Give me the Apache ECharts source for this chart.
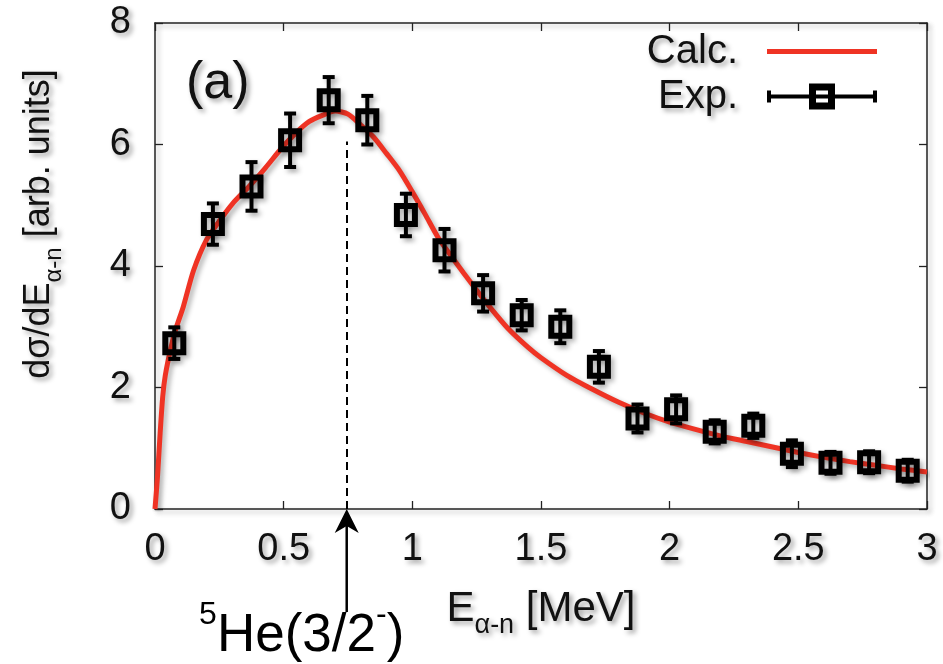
<!DOCTYPE html>
<html>
<head>
<meta charset="utf-8">
<script src="https://cdn.jsdelivr.net/npm/echarts@6/dist/echarts.min.js"></script>
<style>html,body{margin:0;padding:0;background:#fff}#c{width:943px;height:664px}</style>
</head>
<body>
<div id="c"></div>
<script>
// ---- data ----
const calcE = [0, 0.01, 0.02, 0.03, 0.04, 0.06, 0.08, 0.11, 0.15, 0.2, 0.25, 0.3, 0.37, 0.43, 0.49, 0.55, 0.6, 0.65, 0.7, 0.75, 0.8, 0.85, 0.9, 0.95, 1.0, 1.05, 1.1, 1.15, 1.2, 1.25, 1.3, 1.37, 1.45, 1.5, 1.6, 1.7, 1.8, 1.9, 2.0, 2.1, 2.2, 2.3, 2.4, 2.5, 2.6, 2.7, 2.8, 2.9, 3.0];
const calcY = [0, 0.55, 1.25, 1.85, 2.2, 2.62, 2.95, 3.33, 3.93, 4.43, 4.74, 5.02, 5.33, 5.62, 5.93, 6.2, 6.38, 6.48, 6.55, 6.5, 6.32, 6.12, 5.85, 5.57, 5.22, 4.85, 4.47, 4.17, 3.88, 3.6, 3.33, 2.98, 2.66, 2.49, 2.2, 1.97, 1.76, 1.58, 1.43, 1.31, 1.2, 1.11, 1.02, 0.93, 0.85, 0.78, 0.72, 0.66, 0.61];
const expE = [0.075, 0.225, 0.375, 0.525, 0.675, 0.825, 0.975, 1.125, 1.275, 1.425, 1.575, 1.725, 1.875, 2.025, 2.175, 2.325, 2.475, 2.625, 2.775, 2.925];
const expY = [2.73, 4.69, 5.31, 6.07, 6.73, 6.40, 4.84, 4.26, 3.55, 3.19, 3.0, 2.34, 1.49, 1.64, 1.27, 1.37, 0.91, 0.76, 0.77, 0.63];
const expErr = [0.26, 0.34, 0.40, 0.44, 0.38, 0.40, 0.35, 0.35, 0.30, 0.25, 0.27, 0.26, 0.23, 0.23, 0.19, 0.20, 0.22, 0.18, 0.18, 0.18];
const peakE = 0.745;
const peakDashTop = 6.05;
const xTickLabels = ['0', '0.5', '1', '1.5', '2', '2.5', '3'];
const yTickLabels = ['0', '2', '4', '6', '8'];

const FONT = '"Liberation Sans", Arial, Helvetica, sans-serif';
const tShadow = {textShadowColor: 'rgba(0,0,0,0.38)', textShadowBlur: 5, textShadowOffsetX: 3, textShadowOffsetY: 3};
const lShadow = {shadowColor: 'rgba(0,0,0,0.3)', shadowBlur: 5, shadowOffsetX: 3, shadowOffsetY: 3};

const axisLine = {show: true, onZero: false, lineStyle: Object.assign({color: '#222', width: 1.5}, lShadow)};
const axisTick = {show: true, inside: true, length: 8, lineStyle: {color: '#222', width: 1.3}};

const chart = echarts.init(document.getElementById('c'), null, {renderer: 'canvas'});

function renderExp(params, api) {
  const x = api.value(0), y = api.value(1), e = api.value(2);
  const c = api.coord([x, y]);
  const t = api.coord([x, y + e]);
  const b = api.coord([x, y - e]);
  const st = Object.assign({stroke: '#000', fill: null}, lShadow);
  return {
    type: 'group',
    children: [
      {type: 'line', shape: {x1: c[0], y1: t[1], x2: c[0], y2: b[1]}, style: Object.assign({}, st, {lineWidth: 4})},
      {type: 'line', shape: {x1: c[0] - 6, y1: t[1], x2: c[0] + 6, y2: t[1]}, style: Object.assign({}, st, {lineWidth: 4})},
      {type: 'line', shape: {x1: c[0] - 6, y1: b[1], x2: c[0] + 6, y2: b[1]}, style: Object.assign({}, st, {lineWidth: 4})},
      {type: 'rect', shape: {x: c[0] - 9, y: c[1] - 9, width: 18, height: 18}, style: Object.assign({}, st, {lineWidth: 6})}
    ]
  };
}

const calcIcon = 'path://M0,9h110v5h-110z';
const expIcon = 'path://M0,11h110v4h-110z M0,7h4v12h-4z M106,7h4v12h-4z M42,0h26v26h-26z M49,7v12h12v-12z';

const option = {
  animation: false,
  backgroundColor: '#fff',
  grid: {left: 155, right: 16, top: 23, bottom: 155, containLabel: false},
  legend: {
    data: [{name: 'Calc.', icon: calcIcon, itemStyle: {color: '#ef3324'}}, {name: 'Exp.', icon: expIcon}],
    orient: 'vertical', right: 61, top: 24, align: 'right',
    itemWidth: 110, itemHeight: 26, itemGap: 0, selectedMode: false,
    textStyle: Object.assign({fontSize: 40, color: '#111', fontFamily: FONT, padding: [0, 24, 0, 0], lineHeight: 45}, tShadow)
  },
  xAxis: [
    {
      type: 'value', min: 0, max: 3, interval: 0.5, position: 'bottom',
      axisLine: axisLine, axisTick: axisTick, splitLine: {show: false},
      axisLabel: Object.assign({fontSize: 38, color: '#111', fontFamily: FONT, margin: 22,
        formatter: v => xTickLabels[Math.round(v / 0.5)]}, tShadow),
      name: '{m|E}{s|α-n}{m| [MeV]}', nameLocation: 'middle', nameGap: 70,
      nameTextStyle: Object.assign({color: '#111', fontFamily: FONT, rich: {
        m: Object.assign({fontSize: 42, fontFamily: FONT, color: '#111', lineHeight: 60}, tShadow),
        s: Object.assign({fontSize: 27, fontFamily: FONT, color: '#111', lineHeight: 60, verticalAlign: 'bottom'}, tShadow)
      }}, tShadow)
    },
    {
      type: 'value', min: 0, max: 3, interval: 0.5, position: 'top',
      axisLine: axisLine, axisTick: axisTick, splitLine: {show: false}, axisLabel: {show: false}
    }
  ],
  yAxis: [
    {
      type: 'value', min: 0, max: 8, interval: 2, position: 'left',
      axisLine: axisLine, axisTick: axisTick, splitLine: {show: false},
      axisLabel: Object.assign({fontSize: 38, color: '#111', fontFamily: FONT, margin: 24,
        formatter: v => yTickLabels[Math.round(v / 2)]}, tShadow),
      name: '{m|dσ/dE}{s|α-n}{m| [arb. units]}', nameLocation: 'middle', nameRotate: 90, nameGap: 89,
      nameTextStyle: Object.assign({color: '#111', fontFamily: FONT, padding: [0, 0, 0, 84], rich: {
        m: Object.assign({fontSize: 36, fontFamily: FONT, color: '#111', lineHeight: 54}, tShadow),
        s: Object.assign({fontSize: 24, fontFamily: FONT, color: '#111', lineHeight: 54, verticalAlign: 'bottom'}, tShadow)
      }}, tShadow)
    },
    {
      type: 'value', min: 0, max: 8, interval: 2, position: 'right',
      axisLine: axisLine, axisTick: axisTick, splitLine: {show: false}, axisLabel: {show: false}
    }
  ],
  series: [
    {
      name: 'Calc.', type: 'line', xAxisIndex: 0, yAxisIndex: 0,
      data: calcE.map((e, i) => [e, calcY[i]]),
      showSymbol: false, symbol: 'none', smooth: 0.25,
      itemStyle: {color: '#ef3324'},
      lineStyle: Object.assign({color: '#ef3324', width: 5}, lShadow),
      z: 3,
      markLine: {
        silent: true, symbol: ['none', 'none'], animation: false,
        label: {show: false},
        lineStyle: {color: '#000', width: 2, type: [8, 5]},
        data: [[{coord: [peakE, 0]}, {coord: [peakE, peakDashTop]}]]
      }
    },
    {
      name: 'Exp.', type: 'custom', xAxisIndex: 0, yAxisIndex: 0,
      data: expE.map((e, i) => [e, expY[i], expErr[i]]),
      encode: {x: 0, y: 1},
      itemStyle: {color: '#000'},
      renderItem: renderExp,
      z: 5
    }
  ]
};
chart.setOption(option);

const px = chart.convertToPixel({xAxisIndex: 0}, peakE);
const py0 = chart.convertToPixel({yAxisIndex: 0}, 0);
chart.setOption({
  graphic: [
    {type: 'text', left: 186, top: 58, style: Object.assign({text: '(a)', fontSize: 52, fontFamily: FONT, fill: '#111'}, tShadow)},
    {type: 'line', shape: {x1: px, y1: py0 + 16, x2: px, y2: py0 + 103}, style: {stroke: '#000', lineWidth: 2.5}},
    {type: 'polygon', shape: {points: [[px, py0], [px - 12, py0 + 24], [px, py0 + 17], [px + 12, py0 + 24]]}, style: {fill: '#000'}},
    {type: 'text', x: px - 45, y: 636, style: {
      text: '{p|5}{h|He(3/2}{p|-}{h|)}', align: 'center', verticalAlign: 'middle',
      rich: {
        h: {fontSize: 53, fontFamily: FONT, fill: '#000', lineHeight: 74},
        p: {fontSize: 32, fontFamily: FONT, fill: '#000', lineHeight: 74, verticalAlign: 'top'}
      }
    }}
  ]
});
</script>
</body>
</html>
